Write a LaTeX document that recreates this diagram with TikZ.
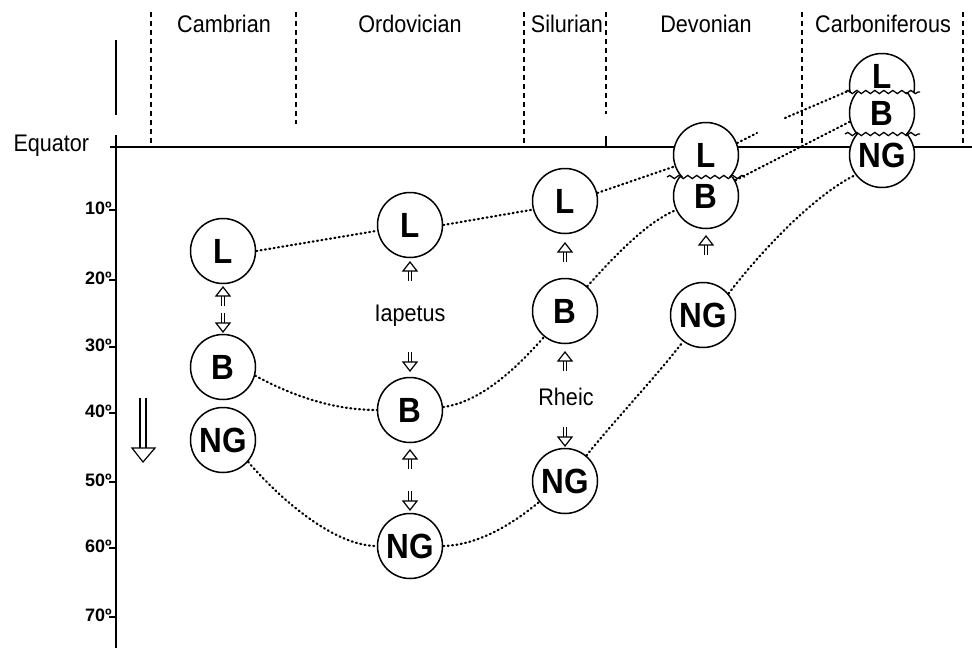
\documentclass[tikz,border=0pt]{standalone}
\usepackage{fontspec}
\setmainfont{Liberation Sans}
\newfontfamily\narrowfont[FakeStretch=0.9]{Liberation Sans}
\usetikzlibrary{decorations.pathmorphing}
\begin{document}
\begin{tikzpicture}[x=1pt,y=-1pt,
  bubble/.style={circle,draw,fill=white,line width=1.5pt,minimum size=65pt,
    inner sep=0pt,font=\fontsize{35}{35}\narrowfont\bfseries},
  period/.style={font=\fontsize{24}{24}\narrowfont,anchor=base},
  plainlabel/.style={font=\fontsize{24}{24}\narrowfont},
  latlabel/.style={font=\fontsize{18}{18}\selectfont\bfseries,anchor=east,inner sep=0pt},
  axisline/.style={line width=1.5pt},
  boundary/.style={line width=1.3pt,dash pattern=on 5pt off 4pt},
  dots/.style={line width=2.2pt,dash pattern=on 1pt off 3.4pt,line cap=round},
  wave/.style={line width=1.3pt,decorate,decoration={snake,amplitude=1.6pt,segment length=9pt}},
  thinarrow/.style={line width=1.2pt},
  uparr/.pic={
    \draw[thinarrow,fill=white] (-7,-1) -- (0,-10) -- (7,-1) -- cycle;
    \draw[thinarrow] (-1.6,-1) -- (-1.6,9) (1.6,-1) -- (1.6,9);
  },
  downarr/.pic={
    \draw[thinarrow,fill=white] (-7,1) -- (0,10) -- (7,1) -- cycle;
    \draw[thinarrow] (-1.6,1) -- (-1.6,-9) (1.6,1) -- (1.6,-9);
  }
]
\useasboundingbox (0,0) rectangle (972,648);

% latitude axis and equator
\draw[axisline] (116,40) -- (116,115);
\draw[axisline] (116,135) -- (116,648);
\draw[axisline] (110,147) -- (972,147);
\node[plainlabel,anchor=west] (eq) at (10,146) {Equator};

% latitude ticks
\foreach \lat/\yy in {10/210,20/280,30/347,40/413,50/482,60/548,70/617}{
  \draw[line width=1.2pt] (109,\yy) -- (116,\yy);
  \node[latlabel] at (112,\yy-2) {\lat º};
}

% period boundaries
\draw[boundary] (151,12) -- (151,147);
\draw[boundary] (296,12) -- (296,124);
\draw[boundary] (524,12) -- (524,147);
\draw[boundary] (606,12) -- (606,114);
\draw[line width=1.3pt] (606,136) -- (606,147);
\draw[boundary] (802,12) -- (802,147);
\draw[boundary] (963,12) -- (963,147);

% period names
\node[period] (pCam) at (224,32) {Cambrian};
\node[period] (pOrd) at (410,32) {Ordovician};
\node[period] (pSil) at (567,32) {Silurian};
\node[period] (pDev) at (706,32) {Devonian};
\node[period] (pCar) at (883,32) {Carboniferous};

% southward drift arrow
\draw[line width=1.2pt] (140,398) -- (140,448) (146,398) -- (146,448);
\draw[line width=1.2pt,fill=white] (132,448) -- (155,448) -- (143,462) -- cycle;

% Cambrian
\node[bubble] (CL) at (223,251) {L};
\node[bubble] (CB) at (223,367) {B};
\node[bubble] (CN) at (223,440) {NG};
\pic at (223,297) {uparr};
\pic at (223,322) {downarr};

% Ordovician
\node[bubble] (OL) at (410,225) {L};
\node[bubble] (OB) at (410,410) {B};
\node[bubble] (ON) at (410,546) {NG};
\pic at (410,272) {uparr};
\node[plainlabel] (iap) at (410,316) {Iapetus};
\pic at (410,361) {downarr};
\pic at (410,460) {uparr};
\pic at (410,500) {downarr};

% Silurian
\node[bubble] (SL) at (565,201) {L};
\node[bubble] (SB) at (565,311) {B};
\node[bubble] (SN) at (565,481) {NG};
\pic at (565,253) {uparr};
\pic at (565,362) {uparr};
\node[plainlabel] (rhe) at (566,397) {Rheic};
\pic at (565,436) {downarr};

% Devonian: L and B joined along a suture
\begin{scope}
  \clip (650,100) rectangle (760,177);
  \node[bubble] (DL) at (706,155) {L};
\end{scope}
\begin{scope}
  \clip (650,177) rectangle (760,240);
  \node[bubble] (DB) at (706,196) {B};
\end{scope}
\draw[wave] (667,177) -- (745,177);
\pic at (706,246) {uparr};
\node[bubble] (DN) at (703,315) {NG};

% Carboniferous: L, B and NG joined
\begin{scope}
  \clip (830,40) rectangle (935,92);
  \node[bubble] (KL) at (882,86) {\raisebox{-2pt}[0pt][0pt]{L}};
\end{scope}
\begin{scope}
  \clip (830,92) rectangle (935,134);
  \node[bubble] (KB) at (882,113) {B};
\end{scope}
\begin{scope}
  \clip (830,134) rectangle (935,200);
  \node[bubble] (KN) at (882,155) {NG};
\end{scope}
\draw[wave] (845,92) -- (920,92);
\draw[wave] (845,134) -- (920,134);

% L track
\coordinate (Lgap1) at (757,133);
\coordinate (Lgap2) at (785,118);
\draw[dots] (CL.0) -- (OL.190);
\draw[dots] (OL.0) -- (SL.195);
\draw[dots] (SL.14) -- (DL.200);
\draw[dots] (DL.21) -- (Lgap1);
\draw[dots] (Lgap2) -- (KL.188);

% B track
\draw[dots] (CB.-15) .. controls (300,400) and (340,410) .. (OB.180);
\draw[dots] (OB.5) .. controls (480,402) and (515,370) .. (SB.231);
\draw[dots] (SB.48) .. controls (620,250) and (648,222) .. (DB.205);
\draw[dots] (DB.28) -- (KB.195);

% NG track
\draw[dots] (CN.-41) .. controls (290,510) and (340,546) .. (ON.180);
\draw[dots] (ON.0) .. controls (480,545) and (515,522) .. (SN.219);
\draw[dots] (SN.50) .. controls (615,420) and (660,372) .. (DN.233);
\draw[dots] (DN.40) .. controls (770,240) and (820,192) .. (KN.217);
\end{tikzpicture}
\end{document}
